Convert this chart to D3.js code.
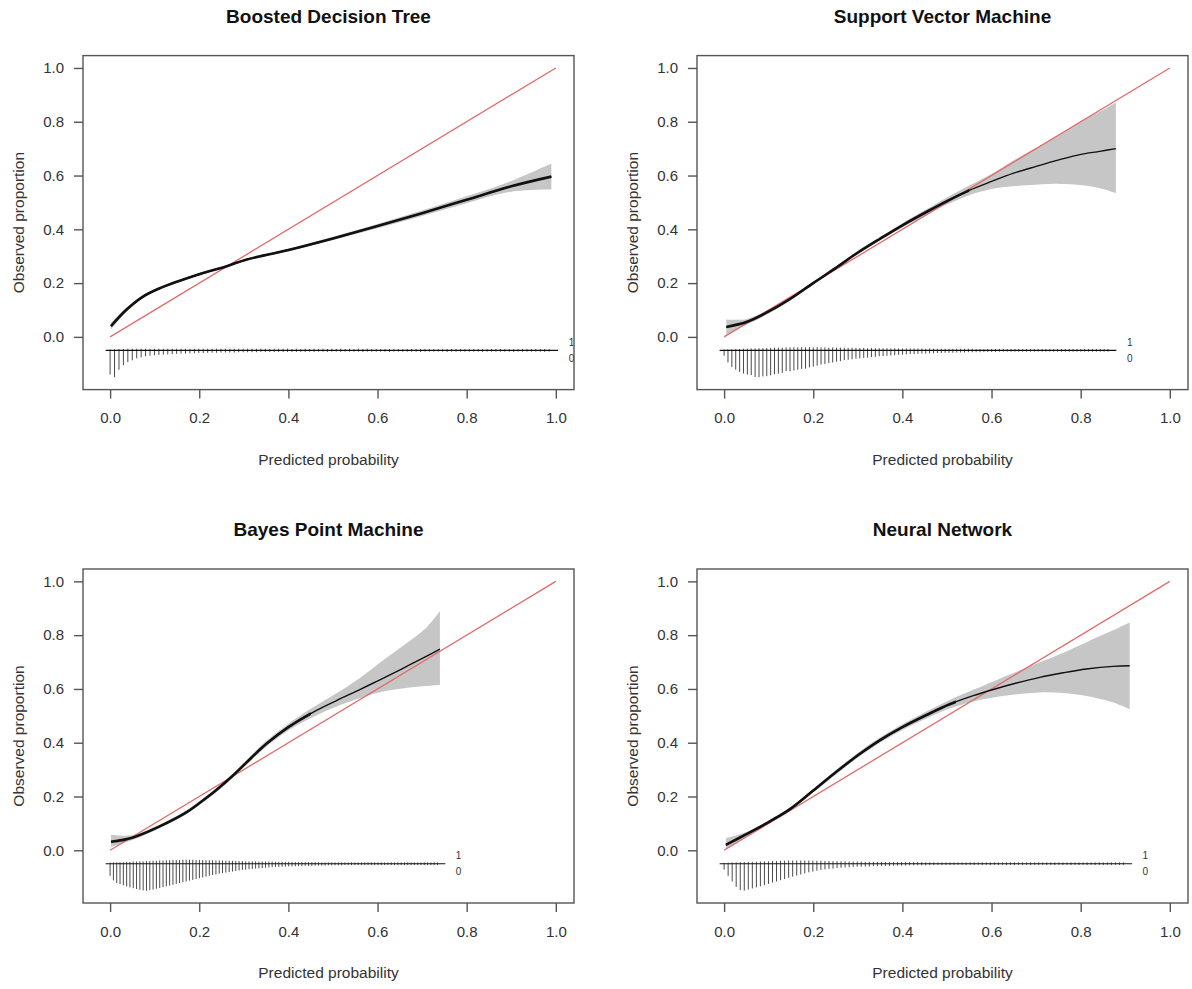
<!DOCTYPE html>
<html>
<head>
<meta charset="utf-8">
<script src="https://cdn.jsdelivr.net/npm/d3@7/dist/d3.min.js"></script>
<style>
    body { margin: 0; background: #fff; }
    svg text { font-family: "Liberation Sans", Arial, Helvetica, sans-serif; }
</style>
</head>
<body>
<svg id="chart" width="1192" height="989"></svg>
<script>
// ---- data ----
var titles = ["Boosted Decision Tree", "Support Vector Machine", "Bayes Point Machine", "Neural Network"];
var xTicks = [0, 0.2, 0.4, 0.6, 0.8, 1.0];
var yTicks = [0, 0.2, 0.4, 0.6, 0.8, 1.0];
var classLabels = ["1", "0"];

// largest predicted probability of each model (end of the risk histogram)
var pMax = [0.995, 0.87, 0.742, 0.905];

// Boosted decision tree: smooth calibration curve and its confidence band
var bdtX  = [0.002, 0.036, 0.073, 0.11, 0.2, 0.26, 0.305, 0.4, 0.5, 0.6, 0.7, 0.8, 0.9, 0.99];
var bdtY  = [0.040, 0.100, 0.149, 0.180, 0.233, 0.262, 0.287, 0.323, 0.366, 0.412, 0.460, 0.510, 0.560, 0.596];
var bdtLo = [0.028, 0.092, 0.143, 0.175, 0.229, 0.258, 0.283, 0.318, 0.360, 0.404, 0.450, 0.497, 0.540, 0.548];
var bdtHi = [0.052, 0.108, 0.155, 0.185, 0.237, 0.266, 0.291, 0.328, 0.372, 0.420, 0.470, 0.523, 0.580, 0.645];

// Support vector machine
var svmX  = [0.005, 0.05, 0.095, 0.147, 0.2, 0.252, 0.297, 0.35, 0.4, 0.46, 0.5, 0.55, 0.6, 0.648, 0.7, 0.753, 0.798, 0.843, 0.879];
var svmY  = [0.037, 0.055, 0.090, 0.140, 0.200, 0.258, 0.310, 0.365, 0.415, 0.470, 0.505, 0.545, 0.578, 0.608, 0.634, 0.659, 0.678, 0.690, 0.700];
var svmLo = [0.008, 0.045, 0.082, 0.133, 0.194, 0.252, 0.304, 0.358, 0.407, 0.460, 0.492, 0.527, 0.550, 0.560, 0.566, 0.569, 0.565, 0.553, 0.535];
var svmHi = [0.065, 0.066, 0.098, 0.147, 0.206, 0.264, 0.316, 0.372, 0.423, 0.480, 0.518, 0.563, 0.606, 0.655, 0.703, 0.752, 0.800, 0.838, 0.872];

// Bayes point machine
var bpmX  = [0.002, 0.05, 0.11, 0.17, 0.2, 0.237, 0.275, 0.305, 0.35, 0.4, 0.454, 0.506, 0.558, 0.603, 0.655, 0.707, 0.74];
var bpmY  = [0.032, 0.047, 0.088, 0.140, 0.175, 0.222, 0.277, 0.325, 0.395, 0.458, 0.512, 0.555, 0.596, 0.632, 0.675, 0.719, 0.748];
var bpmLo = [0.012, 0.038, 0.081, 0.133, 0.168, 0.214, 0.269, 0.316, 0.384, 0.445, 0.495, 0.533, 0.564, 0.587, 0.602, 0.611, 0.615];
var bpmHi = [0.058, 0.056, 0.095, 0.147, 0.182, 0.230, 0.285, 0.334, 0.406, 0.471, 0.530, 0.582, 0.638, 0.695, 0.758, 0.824, 0.890];

// Neural network
var nnX  = [0.004, 0.05, 0.1, 0.147, 0.2, 0.252, 0.304, 0.35, 0.4, 0.454, 0.506, 0.559, 0.604, 0.656, 0.708, 0.761, 0.813, 0.873, 0.91];
var nnY  = [0.020, 0.060, 0.105, 0.152, 0.222, 0.292, 0.358, 0.410, 0.458, 0.503, 0.543, 0.575, 0.598, 0.622, 0.643, 0.660, 0.674, 0.684, 0.686];
var nnLo = [0.002, 0.052, 0.099, 0.146, 0.215, 0.284, 0.349, 0.400, 0.447, 0.490, 0.527, 0.553, 0.568, 0.580, 0.587, 0.585, 0.574, 0.550, 0.525];
var nnHi = [0.045, 0.068, 0.111, 0.158, 0.229, 0.300, 0.367, 0.420, 0.469, 0.516, 0.559, 0.597, 0.628, 0.664, 0.699, 0.735, 0.774, 0.818, 0.847];

// spike histograms: relative counts in 100 bins, outcome 0 (down) and outcome 1 (up)
var bdtNeg = [90,100,72,55,44,37,30,26,22,20,
              18,17,16,15,14,13,12,12,11,11,
              10,10,9,9,9,8,8,8,8,7,
              7,7,7,7,6,6,6,6,6,6,
              6,6,6,6,6,5,6,5,5,6,
              5,5,6,5,5,5,5,6,5,5,
              5,5,5,6,5,5,5,5,5,5,
              6,5,5,5,5,5,6,5,5,5,
              5,5,5,5,6,5,5,5,5,5,
              5,6,5,5,5,5,5,5,6,5];
var bdtPos = [3,4,5,5,6,6,6,6,6,6,
              6,6,6,6,6,6,6,6,6,6,
              6,6,6,6,6,6,6,6,6,6,
              6,6,6,6,6,6,6,6,6,6,
              6,5,6,5,6,5,6,5,6,5,
              6,5,6,5,6,5,6,5,6,5,
              5,5,5,5,5,5,5,5,5,5,
              5,5,5,5,5,5,5,5,5,5,
              5,5,5,5,5,5,5,5,5,5,
              5,5,5,5,5,5,5,5,5,5];

var svmNeg = [20,45,62,72,80,86,90,92,99,100,
              97,96,93,89,87,84,77,78,75,72,
              69,68,63,60,57,53,51,48,45,42,
              40,36,35,33,31,30,28,27,25,24,
              22,21,20,19,18,17,16,15,14,14,
              13,12,12,11,11,10,10,9,9,9,
              8,8,8,7,7,7,7,6,6,6,
              6,5,5,5,5,5,5,5,5,5,
              5,5,5,5,5,5,5,5,5,5,
              5,5,5,5,5,5,5,5,5,5];
var svmPos = [3,4,4,5,5,6,6,7,7,8,
              8,9,9,10,10,10,11,11,11,11,
              12,11,12,11,12,11,11,10,11,10,
              10,10,9,10,9,9,9,8,9,8,
              8,8,8,7,8,7,7,7,7,7,
              7,7,6,7,6,6,6,6,6,6,
              6,6,6,6,6,5,5,5,5,5,
              5,5,5,5,5,5,5,5,5,5,
              5,5,5,5,5,5,5,5,5,5,
              5,5,5,5,5,5,5,5,5,5];

var bpmNeg = [45,62,72,76,80,84,88,91,94,97,
              99,100,98,96,93,90,87,84,81,78,
              75,72,69,66,63,60,57,54,51,48,
              45,42,40,37,35,33,31,29,27,25,
              23,22,20,19,18,17,16,15,14,13,
              12,12,11,11,10,10,9,9,9,8,
              8,8,7,7,7,7,6,6,6,6,
              6,5,5,5,5,5,5,5,5,5,
              5,5,5,5,5,5,5,5,5,5,
              5,5,5,5,5,5,5,5,5,5];
var bpmPos = [4,5,5,6,6,7,7,8,8,9,
              9,10,10,11,11,12,12,13,13,14,
              14,14,15,15,15,15,14,14,14,13,
              13,13,12,12,12,11,11,11,10,10,
              10,9,9,9,9,8,8,8,8,8,
              7,7,7,7,7,7,6,6,6,6,
              6,6,6,6,5,5,5,5,5,5,
              5,5,5,5,5,5,5,5,5,5,
              5,5,5,5,5,5,5,5,5,5,
              5,5,5,5,5,5,5,5,5,5];

var nnNeg = [22,45,66,86,98,100,96,92,88,84,
             80,75,70,66,61,57,52,48,44,40,
             36,32,29,26,23,21,19,18,16,15,
             14,13,12,11,11,10,10,9,9,8,
             8,8,7,7,7,7,6,6,6,6,
             6,5,5,5,5,5,5,5,4,4,
             5,4,5,4,5,4,5,4,5,4,
             5,4,5,4,5,4,5,4,5,4,
             5,4,5,4,5,4,5,4,5,4,
             5,4,5,4,5,4,5,4,5,4];
var nnPos = [3,4,5,5,6,6,7,7,8,8,
             9,9,10,10,11,11,12,12,12,12,
             12,12,11,11,11,10,10,10,9,9,
             9,8,8,8,8,7,7,7,7,7,
             6,6,6,6,6,6,6,6,6,6,
             5,5,5,5,5,5,5,5,5,5,
             5,5,5,5,5,5,5,5,5,5,
             5,5,5,5,5,5,5,5,5,5,
             5,5,5,5,5,5,5,5,5,5,
             5,5,5,5,5,5,5,5,5,5];

// ---- layout and style ----
var W = 491, H = 334;
var lefts = [83, 697, 83, 697];
var tops = [55.6, 55.6, 569, 569];
var thickUntil = [1.0, 0.55, 0.45, 0.52];   // curve drawn bold up to here
var xDomain = [-0.0608, 1.0408];              // xlim c(-0.02, 1) + 4%
var yDomain = [-0.196, 1.046];                // ylim c(-0.15, 1) + 4%
var lineBins = -0.05, spikeMax = 0.1;

var svg = d3.select("#chart");

var models = [
    { x: bdtX, y: bdtY, lo: bdtLo, hi: bdtHi, neg: bdtNeg, pos: bdtPos },
    { x: svmX, y: svmY, lo: svmLo, hi: svmHi, neg: svmNeg, pos: svmPos },
    { x: bpmX, y: bpmY, lo: bpmLo, hi: bpmHi, neg: bpmNeg, pos: bpmPos },
    { x: nnX,  y: nnY,  lo: nnLo,  hi: nnHi,  neg: nnNeg,  pos: nnPos }
];

models.forEach(function(m, k) {
    drawPanel(m, k);
});

function drawPanel(m, k) {
    var g = svg.append("g").attr("transform", "translate(" + lefts[k] + "," + tops[k] + ")");
    var x = d3.scaleLinear().domain(xDomain).range([0, W]);
    var y = d3.scaleLinear().domain(yDomain).range([H, 0]);

    var clipId = "clip" + k;
    var thickId = "thick" + k;
    var defs = g.append("defs");
    defs.append("clipPath").attr("id", clipId)
        .append("rect").attr("width", W).attr("height", H);
    defs.append("clipPath").attr("id", thickId)
        .append("rect").attr("x", 0).attr("y", 0)
        .attr("width", x(thickUntil[k])).attr("height", H);

    var pts = m.x.map(function(v, i) {
        return { x: v, y: m.y[i], lo: m.lo[i], hi: m.hi[i] };
    });

    var plot = g.append("g").attr("clip-path", "url(#" + clipId + ")");

    // confidence band
    var band = d3.area()
        .curve(d3.curveCatmullRom.alpha(0.5))
        .x(function(d) { return x(d.x); })
        .y0(function(d) { return y(d.lo); })
        .y1(function(d) { return y(d.hi); });
    plot.append("path").datum(pts)
        .attr("d", band)
        .attr("fill", "#c6c6c6");

    // ideal line
    plot.append("line")
        .attr("x1", x(0)).attr("y1", y(0))
        .attr("x2", x(1)).attr("y2", y(1))
        .attr("stroke", "#e06a6a")
        .attr("stroke-width", 1.3);

    // calibration curve
    var curve = d3.line()
        .curve(d3.curveCatmullRom.alpha(0.5))
        .x(function(d) { return x(d.x); })
        .y(function(d) { return y(d.y); });
    plot.append("path").datum(pts)
        .attr("d", curve)
        .attr("fill", "none")
        .attr("stroke", "#111")
        .attr("stroke-width", 1.4);
    plot.append("g").attr("clip-path", "url(#" + thickId + ")")
        .append("path").datum(pts)
        .attr("d", curve)
        .attr("fill", "none")
        .attr("stroke", "#111")
        .attr("stroke-width", 2.6);

    // spike histogram of predicted risks
    var maxCount = d3.max(m.neg.concat(m.pos));
    var h = d3.scaleLinear().domain([0, maxCount]).range([0, spikeMax]);
    var bins = d3.range(m.neg.length).map(function(i) {
        return { x: i * pMax[k] / m.neg.length, neg: m.neg[i], pos: m.pos[i] };
    });
    var spikes = plot.append("g")
        .attr("stroke", "#4a4a4a")
        .attr("stroke-width", 1);
    spikes.selectAll(".down").data(bins).enter().append("line")
        .attr("class", "down")
        .attr("x1", function(d) { return x(d.x); })
        .attr("x2", function(d) { return x(d.x); })
        .attr("y1", y(lineBins))
        .attr("y2", function(d) { return y(lineBins - h(d.neg)); });
    spikes.selectAll(".up").data(bins).enter().append("line")
        .attr("class", "up")
        .attr("x1", function(d) { return x(d.x); })
        .attr("x2", function(d) { return x(d.x); })
        .attr("y1", y(lineBins))
        .attr("y2", function(d) { return y(lineBins + h(d.pos)); });

    plot.append("line")
        .attr("x1", x(-0.01)).attr("x2", x(pMax[k] + 0.01))
        .attr("y1", y(lineBins)).attr("y2", y(lineBins))
        .attr("stroke", "#111").attr("stroke-width", 1.1);

    g.selectAll(".cls").data(classLabels).enter().append("text")
        .attr("class", "cls")
        .attr("x", x(pMax[k] + 0.04))
        .attr("y", function(d, i) { return y(lineBins + (i === 0 ? 0.03 : -0.03)); })
        .attr("dy", "0.35em")
        .attr("text-anchor", "middle")
        .attr("font-size", 10)
        .attr("fill", "#333")
        .text(function(d) { return d; });

    // box
    g.append("rect")
        .attr("width", W).attr("height", H)
        .attr("fill", "none")
        .attr("stroke", "#555")
        .attr("stroke-width", 1.4);

    // axes
    var xAxis = g.append("g")
        .attr("transform", "translate(0," + H + ")")
        .call(d3.axisBottom(x).tickValues(xTicks).tickFormat(d3.format(".1f"))
            .tickSize(9).tickPadding(14));
    var yAxis = g.append("g")
        .call(d3.axisLeft(y).tickValues(yTicks).tickFormat(d3.format(".1f"))
            .tickSize(9).tickPadding(10));
    [xAxis, yAxis].forEach(function(a) {
        a.select(".domain").remove();
        a.selectAll("line").attr("stroke", "#555").attr("stroke-width", 1.4);
        a.selectAll("text").attr("font-size", 15).attr("fill", "#333")
            .style("font-family", "'Liberation Sans', Arial, sans-serif");
    });

    // labels
    g.append("text")
        .attr("x", W / 2).attr("y", -33)
        .attr("text-anchor", "middle")
        .attr("font-size", 19).attr("font-weight", "bold")
        .attr("fill", "#111")
        .text(titles[k]);
    g.append("text")
        .attr("x", W / 2).attr("y", H + 75)
        .attr("text-anchor", "middle")
        .attr("font-size", 15.5).attr("fill", "#333")
        .text("Predicted probability");
    g.append("text")
        .attr("transform", "translate(-59," + (H / 2) + ") rotate(-90)")
        .attr("text-anchor", "middle")
        .attr("font-size", 15.5).attr("fill", "#333")
        .text("Observed proportion");
}
</script>
</body>
</html>
